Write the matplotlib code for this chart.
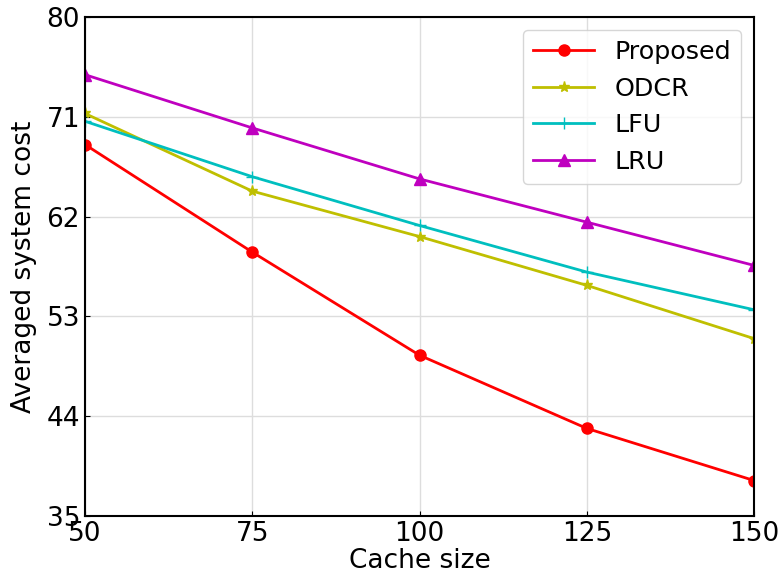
import matplotlib
matplotlib.use('Agg')
import matplotlib.pyplot as plt

# cache sizes and averaged cost per scheme
cache_size = [50, 75, 100, 125, 150]
proposed = [68.5, 58.8, 49.5, 42.9, 38.2]
odcr = [71.3, 64.3, 60.2, 55.8, 51.0]
lfu = [70.6, 65.6, 61.2, 57.0, 53.6]
lru = [74.8, 70.0, 65.4, 61.5, 57.6]

yticks = [35, 44, 53, 62, 71, 80]
xticks = [50, 75, 100, 125, 150]

plt.rcParams['font.size'] = 19
fig = plt.figure(figsize=(7.81, 5.83), dpi=100)
ax = fig.add_axes([0.1088, 0.1149, 0.8567, 0.8559])

ax.plot(cache_size, proposed, 'r-o', lw=2, ms=8, label='Proposed')
ax.plot(cache_size, odcr, 'y-*', lw=2, ms=8, label='ODCR')
ax.plot(cache_size, lfu, 'c-+', lw=2, ms=9, label='LFU')
ax.plot(cache_size, lru, 'm-^', lw=2, ms=8, label='LRU')

ax.set_xlim(50, 150)
ax.set_ylim(35, 80)
ax.set_xticks(xticks)
ax.set_yticks(yticks)
ax.tick_params(direction='in', labelsize=19)
ax.grid(color='#dddddd', lw=1)
ax.set_axisbelow(True)
for s in ax.spines.values():
    s.set_linewidth(1.5)
ax.set_xlabel('Cache size', fontsize=19, labelpad=1)
ax.set_ylabel('Averaged system cost', fontsize=19, labelpad=7)
ax.legend(loc='upper right', fontsize=18.3, handlelength=2.4, borderaxespad=0.5)

fig.savefig('out.png', dpi=100)
